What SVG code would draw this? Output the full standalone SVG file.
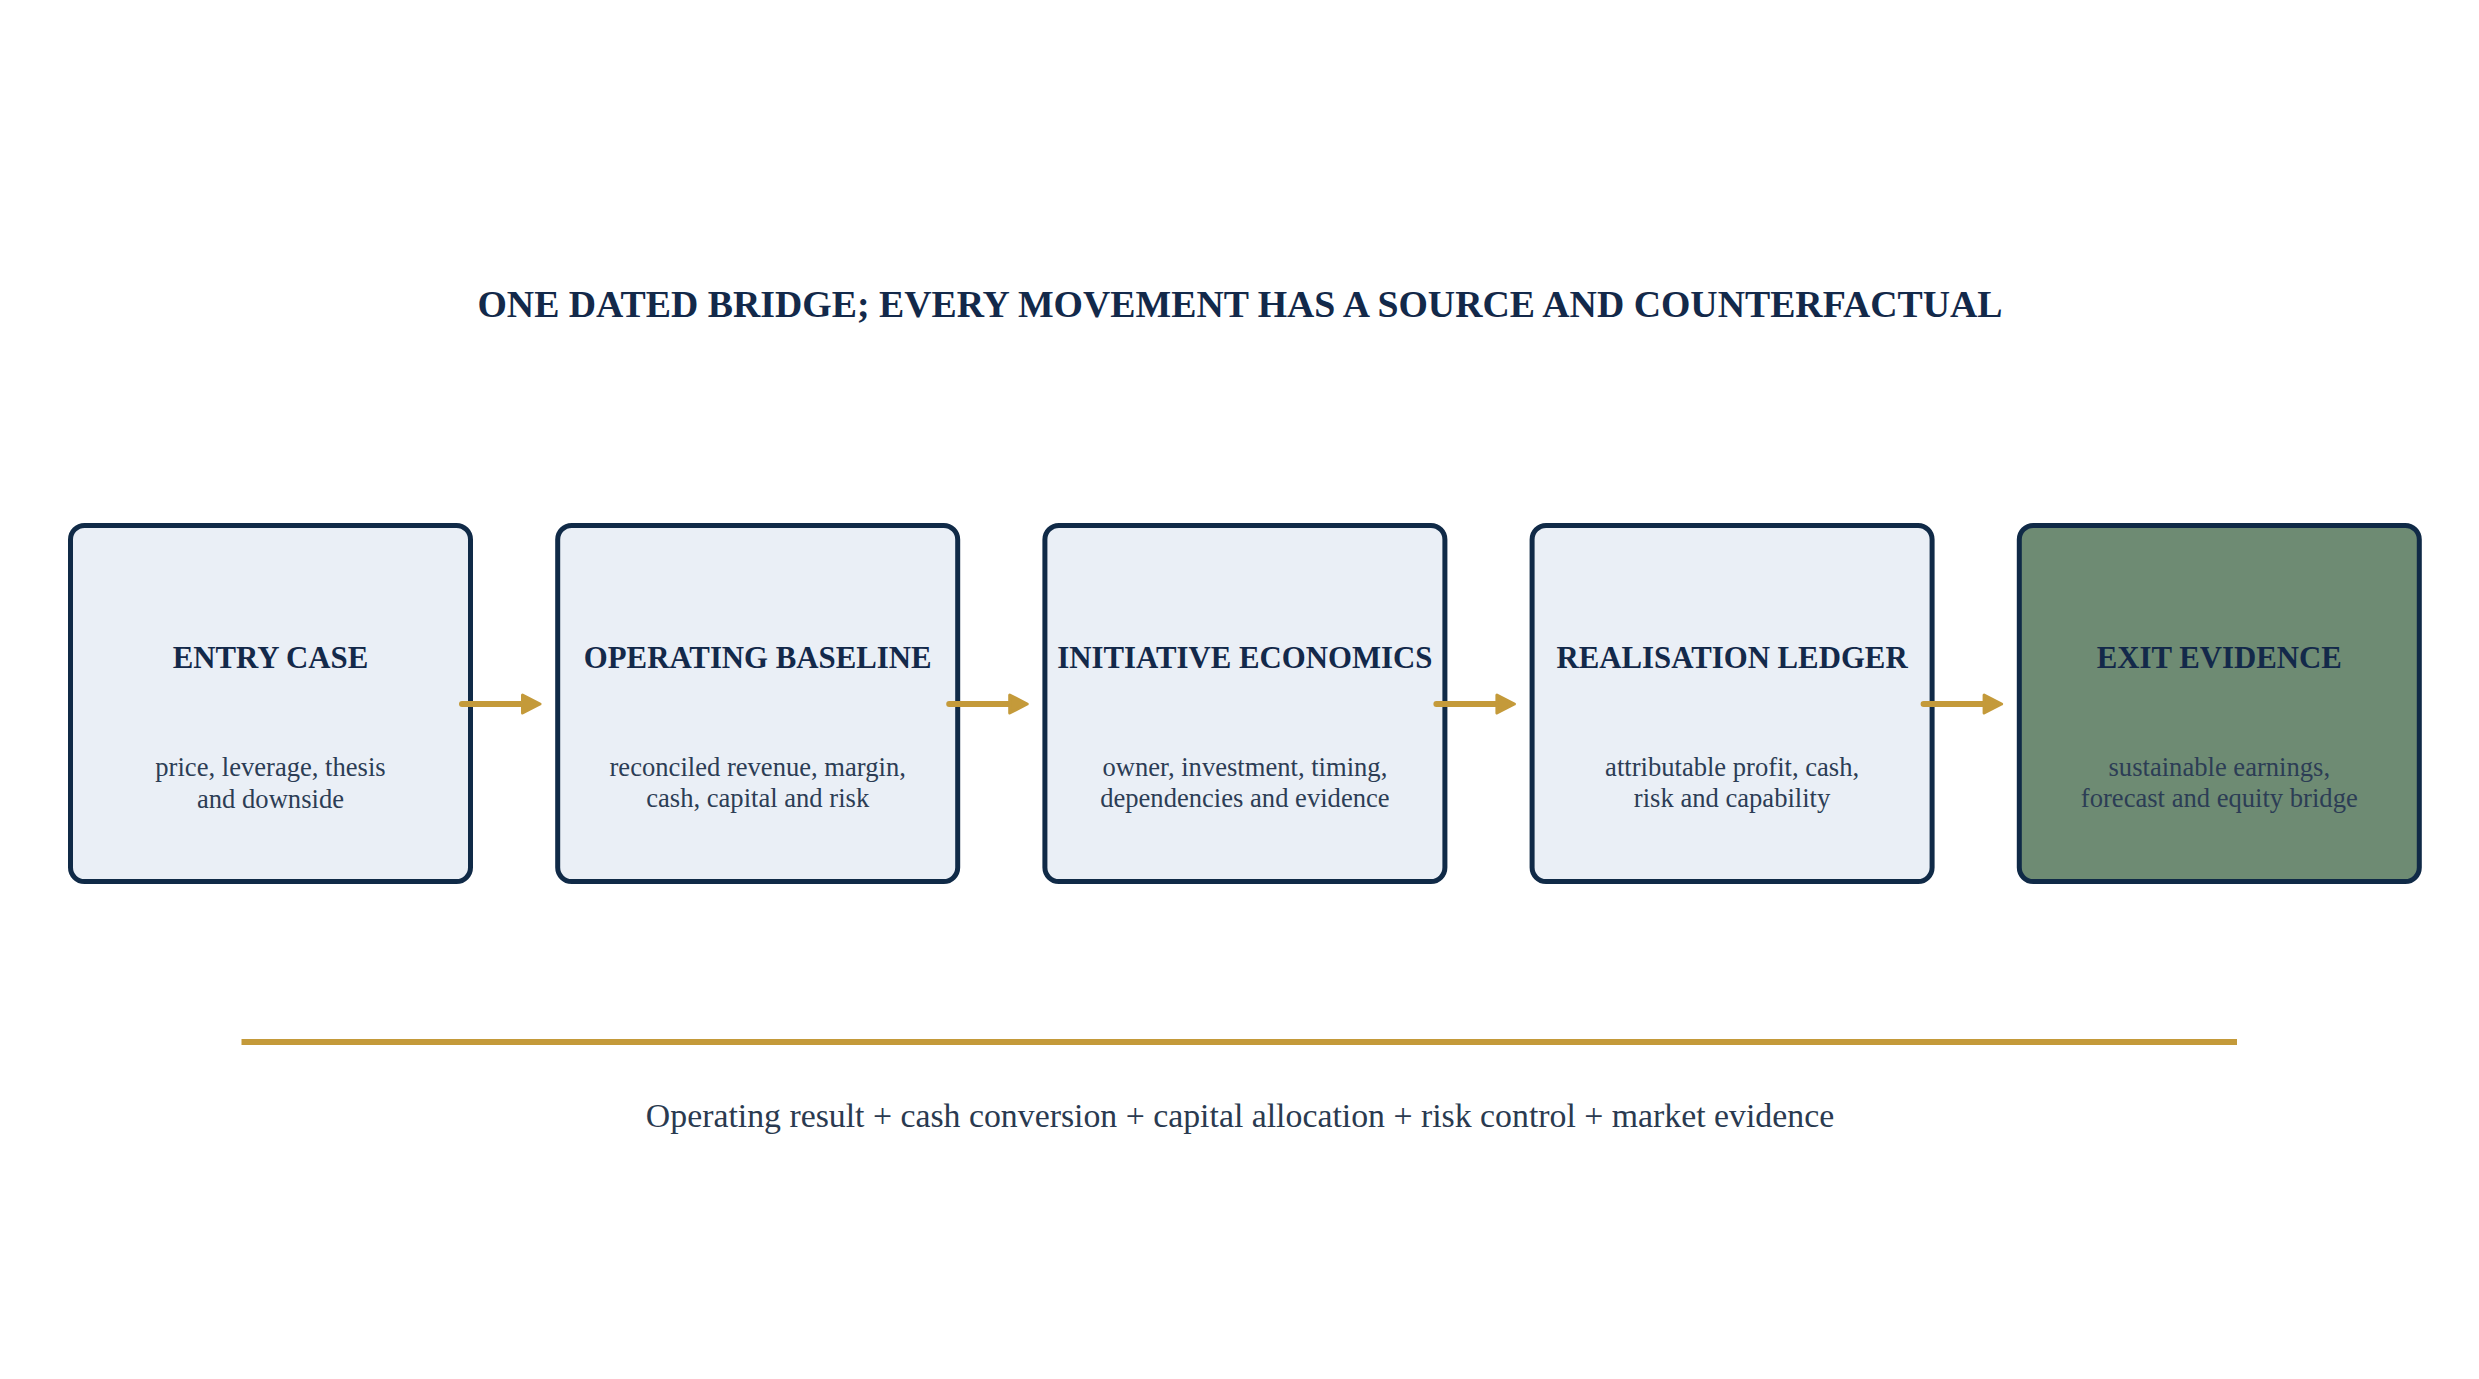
<svg xmlns="http://www.w3.org/2000/svg" width="2479" height="1379" viewBox="0 0 2479 1379">
  <style>
    .box { fill: #EAEFF6; stroke: #102A47; stroke-width: 5; }
    .box.exit { fill: #6E8B73; }
    .title { font-family: "Liberation Serif", "Times New Roman", serif; font-weight: bold; font-size: 37.8px; fill: #13294A; text-anchor: middle; }
    .ntitle { font-family: "Liberation Serif", "Times New Roman", serif; font-weight: bold; font-size: 30.8px; fill: #13294A; text-anchor: middle; }
    .nsub { font-family: "Liberation Serif", "Times New Roman", serif; font-size: 26.6px; fill: #2C3D55; text-anchor: middle; }
    .foot { font-family: "Liberation Serif", "Times New Roman", serif; font-size: 33.8px; fill: #2A3A50; text-anchor: middle; }
    .conn { fill: none; stroke: #C49A3A; stroke-width: 6; stroke-linecap: round; marker-end: url(#arrow); }
  </style>
  <defs>
    <marker id="arrow" markerUnits="userSpaceOnUse" viewBox="0 0 22 22" markerWidth="22" markerHeight="22" refX="9.5" refY="11" orient="auto">
      <path d="M2,2 L19.5,11 L2,20 Z" fill="#C49A3A" stroke="#C49A3A" stroke-width="3" stroke-linejoin="round"/>
    </marker>
  </defs>
  <rect width="2479" height="1379" fill="#FFFFFF"/>

  <text class="title" x="1240" y="317">ONE DATED BRIDGE; EVERY MOVEMENT HAS A SOURCE AND COUNTERFACTUAL</text>

  <g id="node-entry-case">
    <rect class="box" x="70.5" y="525.5" width="400" height="356" rx="14"/>
    <text class="ntitle" x="270.5" y="668">ENTRY CASE</text>
    <text class="nsub" x="270.5" y="776">price, leverage, thesis</text>
    <text class="nsub" x="270.5" y="808">and downside</text>
  </g>
  <g id="node-operating-baseline">
    <rect class="box" x="557.7" y="525.5" width="400" height="356" rx="14"/>
    <text class="ntitle" x="757.7" y="668">OPERATING BASELINE</text>
    <text class="nsub" x="757.7" y="776">reconciled revenue, margin,</text>
    <text class="nsub" x="757.7" y="807">cash, capital and risk</text>
  </g>
  <g id="node-initiative-economics">
    <rect class="box" x="1044.9" y="525.5" width="400" height="356" rx="14"/>
    <text class="ntitle" x="1244.9" y="668">INITIATIVE ECONOMICS</text>
    <text class="nsub" x="1244.9" y="776">owner, investment, timing,</text>
    <text class="nsub" x="1244.9" y="807">dependencies and evidence</text>
  </g>
  <g id="node-realisation-ledger">
    <rect class="box" x="1532.1" y="525.5" width="400" height="356" rx="14"/>
    <text class="ntitle" x="1732.1" y="668">REALISATION LEDGER</text>
    <text class="nsub" x="1732.1" y="776">attributable profit, cash,</text>
    <text class="nsub" x="1732.1" y="807">risk and capability</text>
  </g>
  <g id="node-exit-evidence">
    <rect class="box exit" x="2019.3" y="525.5" width="400" height="356" rx="14"/>
    <text class="ntitle" x="2219.3" y="668">EXIT EVIDENCE</text>
    <text class="nsub" x="2219.3" y="776">sustainable earnings,</text>
    <text class="nsub" x="2219.3" y="807">forecast and equity bridge</text>
  </g>

  <g id="connectors">
    <path class="conn" d="M462,704 L530,704"/>
    <path class="conn" d="M949.2,704 L1017.2,704"/>
    <path class="conn" d="M1436.4,704 L1504.4,704"/>
    <path class="conn" d="M1923.6,704 L1991.6,704"/>
  </g>

  <g id="footer">
    <rect x="241.5" y="1039" width="1995.5" height="6" fill="#C49A3A"/>
    <text class="foot" x="1240" y="1127">Operating result + cash conversion + capital allocation + risk control + market evidence</text>
  </g>
</svg>
